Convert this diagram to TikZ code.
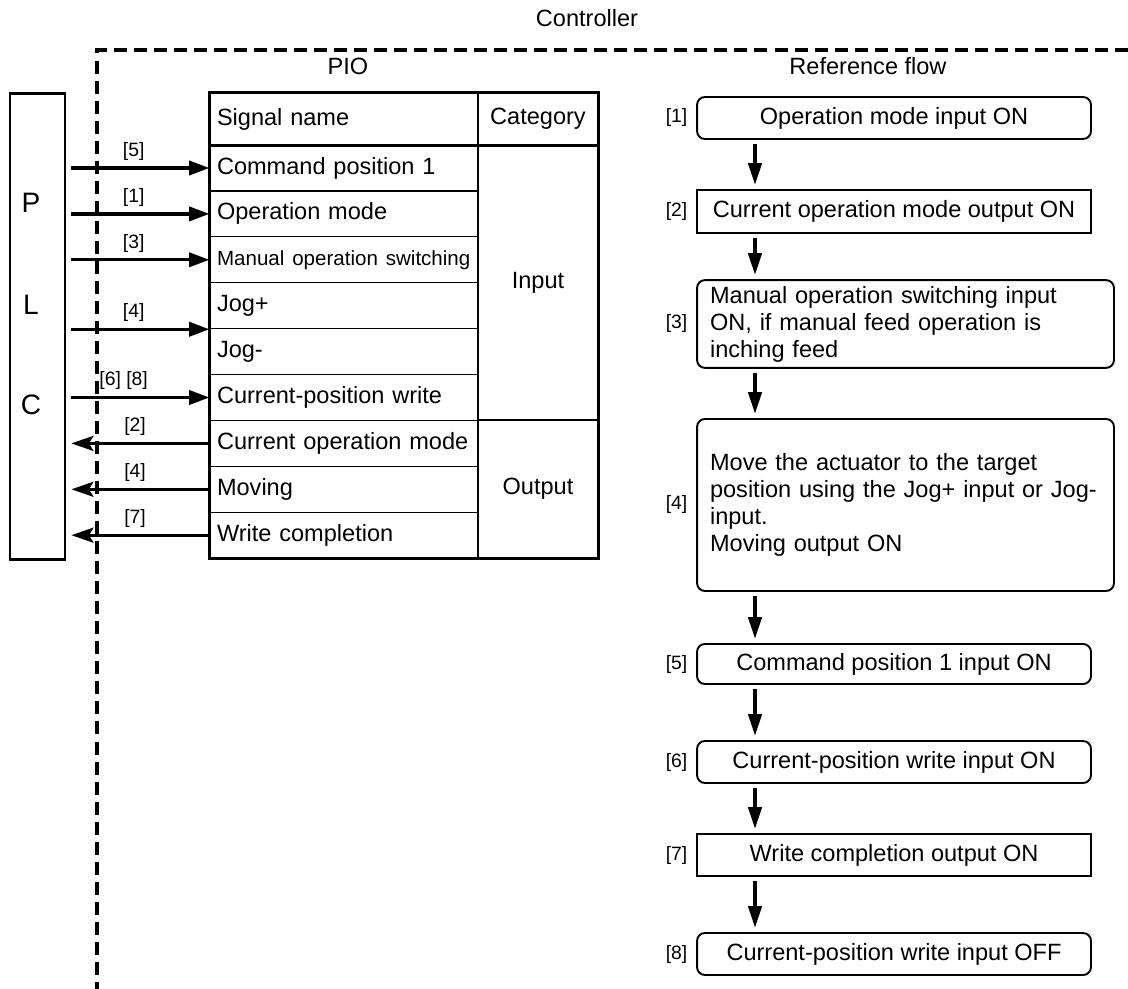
\documentclass[tikz,border=0pt]{standalone}
\usepackage{fontspec}
\setmainfont{Liberation Sans}
\usetikzlibrary{positioning,arrows.meta}

\newcommand{\mainfs}{\fontsize{13.4}{15.4}\selectfont}
\newcommand{\tagfs}{\fontsize{11}{12.5}\selectfont}
\newcommand{\manfs}{\fontsize{11.7}{13.5}\selectfont}
\newcommand{\plcfs}{\fontsize{16}{18}\selectfont}

\tikzset{
  rbox/.style={draw, line width=1.1pt, rounded corners=4.5pt, minimum width=7.88cm, minimum height=0.84cm},
  sbox/.style={draw, line width=1.1pt, minimum width=7.88cm, minimum height=0.84cm},
  wide/.style={minimum width=8.34cm, text width=7.82cm, inner xsep=0.26cm, align=left},
  flowarrow/.style={line width=2.2pt, -{Triangle[length=12.5pt,width=7.5pt]}, shorten <=2.3pt, shorten >=2.3pt},
  sigarrow/.style={line width=1.9pt, -{Triangle[length=11.5pt,width=8pt]}},
  outarrow/.style={line width=1.9pt, -{Stealth[length=12.5pt,width=8.5pt,inset=2.5pt]}},
  sigcell/.style={draw, line width=0.7pt, minimum width=5.36cm, minimum height=0.918cm, text width=5.08cm, inner xsep=0.14cm, align=left},
  catcell/.style={draw, line width=0.7pt, minimum width=2.4cm, align=center},
  numlabel/.style={font=\tagfs},
  ctrlline/.style={line width=2.3pt, dash pattern=on 7.4pt off 4pt},
}

\begin{document}
\begin{tikzpicture}[x=0.02cm, y=-0.02cm, every node/.style={font=\mainfs}]
\useasboundingbox (0,0) rectangle (1128,989);

% controller frame
\node (ctrl) at (587,18) {Controller};
\draw[ctrlline] (1128,50) -| (97,989);
\node (pio) at (348,66) {PIO};
\node (refflow) at (868,66) {Reference flow};

% PLC
\node[draw, line width=1.7pt, minimum width=1.1cm, minimum height=9.34cm] (plc) at (37.5,326.5) {};
\node[font=\plcfs] (p) at (31,203) {P};
\node[font=\plcfs] (l) at (31,305) {L};
\node[font=\plcfs] (c) at (31,405) {C};

% PIO table
\node[sigcell, minimum height=1.04cm] (s0) at (344,119) {Signal name};
\foreach \i/\name in {1/Command position 1, 2/Operation mode, 3/{\manfs Manual operation switching},
    4/Jog+, 5/Jog-, 6/Current-position write, 7/Current operation mode, 8/Moving, 9/Write completion}
  \node[sigcell] (s\i) at (344,{122.1+45.9*\i}) {\name};
\node[catcell, minimum height=1.04cm] (cat0) at (538,119) {Category};
\node[catcell, minimum height=5.5cm] (incat) at (538,282.5) {Input};
\node[catcell, minimum height=2.76cm] (outcat) at (538,489) {Output};
\draw[line width=1.8pt] (s0.north west) rectangle (outcat.south east);
\draw[line width=1.4pt] (s0.south west) -- (cat0.south east);

% signals PLC <-> PIO
\draw[sigarrow, shorten <=2.8pt] (plc.east |- s1) -- (s1.west) node[numlabel, pos=0.47, above] {[5]};
\draw[sigarrow, shorten <=2.8pt] (plc.east |- s2) -- (s2.west) node[numlabel, pos=0.47, above] {[1]};
\draw[sigarrow, shorten <=2.8pt] (plc.east |- s3) -- (s3.west) node[numlabel, pos=0.47, above] {[3]};
\draw[sigarrow, shorten <=2.8pt] (plc.east |- s4.south west) -- (s4.south west) node[numlabel, pos=0.47, above] {[4]};
\draw[sigarrow, shorten <=2.8pt] (plc.east |- s6) -- (s6.west) node[numlabel, pos=0.4, above] {[6] [8]};
\draw[outarrow, shorten >=2.8pt] (s7.west) -- (plc.east |- s7) node[numlabel, pos=0.52, above] {[2]};
\draw[outarrow, shorten >=2.8pt] (s8.west) -- (plc.east |- s8) node[numlabel, pos=0.52, above] {[4]};
\draw[outarrow, shorten >=2.8pt] (s9.west) -- (plc.east |- s9) node[numlabel, pos=0.52, above] {[7]};

% reference flow
\node[rbox] (f1) at (894,118) {Operation mode input ON};
\node[sbox, minimum height=0.86cm] (f2) at (894,211.5) {Current operation mode output ON};
\node[rbox, wide, minimum height=1.68cm] (f3) at (905.5,324) {Manual operation switching input\\ON, if manual feed operation is\\inching feed};
\node[rbox, wide, minimum height=3.44cm] (f4) at (905.5,505) {Move the actuator to the target\\position using the Jog+ input or Jog-\\input.\\Moving output ON};
\node[rbox, minimum height=0.8cm] (f5) at (894,664) {Command position 1 input ON};
\node[rbox] (f6) at (894,762) {Current-position write input ON};
\node[sbox] (f7) at (894,855) {Write completion output ON};
\node[rbox] (f8) at (894,954) {Current-position write input OFF};

\foreach \i in {1,...,8}
  \node[numlabel, left=1.5pt of f\i] (t\i) {[\i]};

\coordinate (fx) at (755,0);
\foreach \a/\b in {f1/f2, f2/f3, f3/f4, f4/f5, f5/f6, f6/f7, f7/f8}
  \draw[flowarrow] (\a.south -| fx) -- (\b.north -| fx);
\end{tikzpicture}
\end{document}
